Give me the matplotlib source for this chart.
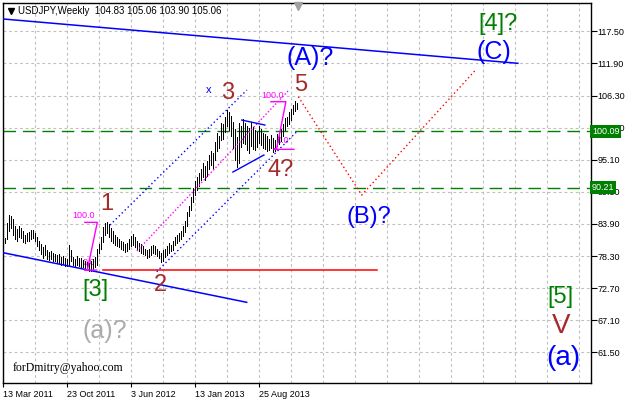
import matplotlib
matplotlib.use('Agg')
import matplotlib.pyplot as plt
import matplotlib.transforms as mtransforms
import numpy as np

# weekly bars (high / low), oldest first
highs = [81.5, 84.0, 85.5, 85.2, 84.7, 83.5, 83.0, 83.6, 83.2, 82.6,
         82.0, 82.3, 82.5, 82.8, 82.9, 82.4, 81.6, 81.0, 80.4, 79.8,
         80.2, 79.4, 79.0, 79.2, 78.9, 78.7, 78.4, 78.6, 78.2, 78.3,
         77.9, 77.8, 80.2, 79.3, 78.2, 77.8, 78.3, 78.0, 77.9, 77.6,
         77.4, 77.3, 77.0, 77.4, 77.8, 78.2, 79.6, 80.4, 81.6, 83.4,
         84.0, 84.2, 83.8, 83.2, 82.6, 81.9, 81.6, 81.3, 81.0, 80.7,
         80.4, 80.6, 81.3, 81.8, 82.2, 81.6, 81.0, 80.6, 80.4, 80.0,
         79.6, 79.4, 79.5, 80.0, 80.3, 80.0, 79.6, 79.2, 78.9, 79.3,
         79.6, 80.0, 80.5, 80.2, 81.0, 81.6, 82.0, 82.4, 82.6, 83.5,
         84.4, 85.9, 87.0, 88.6, 90.2, 91.3, 92.0, 92.7, 93.5, 94.5,
         94.0, 94.8, 96.0, 96.6, 96.2, 98.2, 99.7, 99.3, 101.5, 101.3,
         102.6, 103.7, 103.4, 102.8, 101.6, 100.5, 99.0, 101.5, 100.9, 102.2,
         101.5, 101.0, 100.6, 101.6, 100.8, 100.2, 100.0, 100.9, 100.4, 99.8,
         99.5, 99.2, 98.8, 99.4, 98.9, 98.5, 99.6, 99.8, 100.5, 101.4,
         102.4, 102.5, 103.4, 104.0, 104.6, 105.4, 105.06]
lows = [80.5, 81.3, 82.7, 83.1, 81.9, 81.2, 81.0, 81.6, 81.4, 80.8,
        80.6, 80.9, 81.0, 81.2, 81.4, 81.0, 80.0, 79.3, 78.6, 78.0,
        78.4, 77.8, 77.6, 77.8, 77.4, 77.5, 77.2, 77.1, 76.8, 76.9,
        76.6, 76.5, 76.8, 77.4, 76.8, 76.4, 76.7, 76.6, 76.4, 76.3,
        76.0, 75.8, 75.7, 75.6, 75.6, 76.4, 76.8, 78.8, 79.6, 80.8,
        82.0, 82.4, 81.6, 81.0, 80.6, 80.2, 80.0, 79.8, 79.6, 79.3,
        79.0, 79.2, 79.6, 80.0, 80.3, 79.8, 79.6, 79.2, 78.8, 78.6,
        78.4, 78.0, 78.1, 78.5, 78.8, 78.6, 78.3, 77.9, 77.2, 77.4,
        78.2, 78.5, 78.8, 79.2, 79.4, 80.2, 80.6, 80.9, 81.3, 81.8,
        82.5, 83.6, 85.2, 86.3, 87.8, 89.0, 89.8, 90.6, 91.5, 92.0,
        91.6, 92.3, 93.4, 94.2, 93.6, 95.0, 96.6, 97.2, 98.5, 98.8,
        100.0, 101.0, 100.2, 99.2, 97.2, 95.0, 93.8, 94.5, 97.3, 98.0,
        97.8, 96.8, 96.3, 97.5, 97.0, 96.8, 97.4, 98.0, 97.6, 97.2,
        97.0, 96.6, 96.8, 97.1, 96.4, 96.6, 97.5, 97.8, 98.3, 99.2,
        100.2, 101.0, 101.4, 102.0, 103.0, 103.6, 103.90]

# axes scales
date_weeks = [0, 32, 64, 96, 128]
date_labels = ['13 Mar 2011', '23 Oct 2011', '3 Jun 2012', '13 Jan 2013', '25 Aug 2013']
grid_weeks = list(range(0, 289, 16))
price_ticks = [117.50, 111.90, 106.30, 100.70, 95.10, 89.50, 83.90, 78.30, 72.70, 67.10, 61.50]
levels = [100.09, 90.21]

# drawn objects (week, price)
upper_trend_w = [0, 257.3]
upper_trend_p = [119.65, 111.92]
lower_trend_w = [0, 121.7]
lower_trend_p = [78.87, 70.22]
support_w = [49.8, 186.7]
support_p = [75.8, 75.8]
forecast_w = [147.5, 179.2, 235.8]
forecast_p = [106.09, 88.94, 110.63]
chan_top_w = [53.3, 121.8]
chan_top_p = [83.70, 107.26]
chan_bot_w = [76.7, 146.7]
chan_bot_p = [75.56, 99.98]
chan_mid_w = [66.8, 142.8]
chan_mid_p = [79.17, 107.26]
tri_top_w = [119.2, 130.8]
tri_top_p = [102.02, 101.15]
tri_bot_w = [114.8, 130.3]
tri_bot_p = [92.95, 95.92]
fib1_w = [40.8, 47.0, 42.0, 40.8, 46.7]
fib1_p = [84.17, 84.17, 75.85, 75.85, 75.85]
fib2_w = [133.8, 141.3, 136.7, 135.3, 145.3]
fib2_p = [105.22, 105.22, 97.09, 96.91, 96.91]

BROWN = '#A52A2A'
BLUE = '#0000FF'
GREEN = '#008000'
MAGENTA = '#FF00FF'

# wave labels: text, week, price, colour, size
wave_labels = [
    ('1', 51.6, 87.4, BROWN, 17),
    ('2', 78.8, 73.2, BROWN, 17),
    ('3', 112.1, 106.8, BROWN, 17),
    ('5', 148.7, 108.2, BROWN, 17),
    ('4?', 138.6, 93.3, BROWN, 17),
    ('(A)?', 153.6, 112.8, BLUE, 18),
    ('(B)?', 182.8, 85.1, BLUE, 17),
    ('(C)', 245.3, 113.9, BLUE, 18),
    ('[4]?', 247.3, 118.8, GREEN, 17),
    ('[3]', 46.3, 72.4, GREEN, 17),
    ('[5]', 278.6, 71.1, GREEN, 17),
    ('V', 278.8, 66.1, BROWN, 20),
    ('(a)', 280.1, 60.5, BLUE, 20),
    ('(a)?', 50.8, 65.2, '#ABABAB', 18),
]


def main():
    plt.rcParams['font.family'] = ['Liberation Sans', 'DejaVu Sans']
    fig = plt.figure(figsize=(6.32, 4.01), dpi=100)
    ax = fig.add_axes([3.3 / 632, 1 - 383.3 / 401, 587.4 / 632, 380 / 401])
    ax.set_xlim(0, 293.7)
    ax.set_ylim(56.09, 122.39)

    # grid
    ax.set_xticks(date_weeks)
    ax.set_xticklabels(date_labels, ha='left')
    ax.set_xticks(grid_weeks, minor=True)
    ax.set_yticks(price_ticks)
    ax.set_yticklabels(['%.2f' % p for p in price_ticks])
    ax.grid(True, which='both', color='#C0C0C0', lw=0.8, ls=(0, (2.5, 2.5)))
    ax.set_axisbelow(True)
    ax.yaxis.tick_right()
    ax.tick_params(axis='y', length=4, pad=1, labelsize=6.5)
    ax.tick_params(axis='x', which='major', length=3, pad=1.5, labelsize=6.5)
    ax.tick_params(axis='x', which='minor', length=0)
    for s in ax.spines.values():
        s.set_linewidth(1)

    # price bars, one pixel wide
    weeks = np.arange(1, len(highs) + 1)
    ax.vlines(weeks, lows, highs, color='black', lw=0.5, antialiased=False, zorder=3)

    # levels
    trans = mtransforms.blended_transform_factory(ax.transAxes, ax.transData)
    for lv in levels:
        ax.axhline(lv, color=GREEN, lw=1, ls=(0, (9, 5)), zorder=2)
        ax.text(1.002, lv, '%.2f' % lv, transform=trans, color='white', fontsize=6.5,
                va='center', ha='left', clip_on=False, zorder=6,
                bbox=dict(fc=GREEN, ec='none', pad=1.4))

    # trend lines and channels
    ax.plot(upper_trend_w, upper_trend_p, color=BLUE, lw=1.1, zorder=4)
    ax.plot(lower_trend_w, lower_trend_p, color=BLUE, lw=1.1, zorder=4)
    ax.plot(support_w, support_p, color='red', lw=1.1, zorder=4)
    ax.plot(forecast_w, forecast_p, color='red', lw=1, ls=(0, (1, 2)), zorder=4)
    ax.plot(chan_top_w, chan_top_p, color=BLUE, lw=1, ls=(0, (1, 2)), zorder=4)
    ax.plot(chan_bot_w, chan_bot_p, color=BLUE, lw=1, ls=(0, (1, 2)), zorder=4)
    ax.plot(chan_mid_w, chan_mid_p, color=MAGENTA, lw=1, ls=(0, (1, 1.5)), zorder=4)
    ax.plot(tri_top_w, tri_top_p, color=BLUE, lw=1, zorder=4)
    ax.plot(tri_bot_w, tri_bot_p, color=BLUE, lw=1, zorder=4)

    # fibo expansions
    ax.plot(fib1_w, fib1_p, color=MAGENTA, lw=1, zorder=4)
    ax.plot(fib2_w, fib2_p, color=MAGENTA, lw=1, zorder=4)
    ax.text(34.7, 85.45, '100.0', color=MAGENTA, fontsize=6.5, va='center', zorder=5)
    ax.text(39.8, 77.1, '0.0', color=MAGENTA, fontsize=6.5, va='center', zorder=2)
    ax.text(129.2, 106.3, '100.0', color=MAGENTA, fontsize=6.5, va='center', zorder=5)
    ax.text(136.7, 98.4, '0.0', color=MAGENTA, fontsize=6.5, va='center', zorder=2)
    ax.text(102.5, 107.3, 'x', color=BLUE, fontsize=8, ha='center', va='center', zorder=5)

    # wave marks
    for txt, w, p, c, fs in wave_labels:
        ax.text(w, p, txt, color=c, fontsize=fs, ha='center', va='center', zorder=5)

    ax.text(4.8, 58.84, 'forDmitry@yahoo.com', family=['Liberation Serif', 'DejaVu Serif'],
            fontsize=8.5, va='center', ha='left', zorder=5)

    # header
    ax.plot([0.0131], [0.9795], marker='v', ms=5, color='black', transform=ax.transAxes,
            clip_on=False, zorder=6)
    ax.text(0.0255, 0.981, 'USDJPY,Weekly  104.83 105.06 103.90 105.06', transform=ax.transAxes,
            fontsize=7, va='center', ha='left', zorder=6)
    shift = mtransforms.blended_transform_factory(ax.transData, ax.transAxes)
    ax.plot([147.1], [0.993], marker='v', ms=6, color='#A0A0A0', transform=shift,
            clip_on=False, zorder=6)

    fig.savefig('out.png', dpi=100, facecolor='white')


if __name__ == '__main__':
    main()
